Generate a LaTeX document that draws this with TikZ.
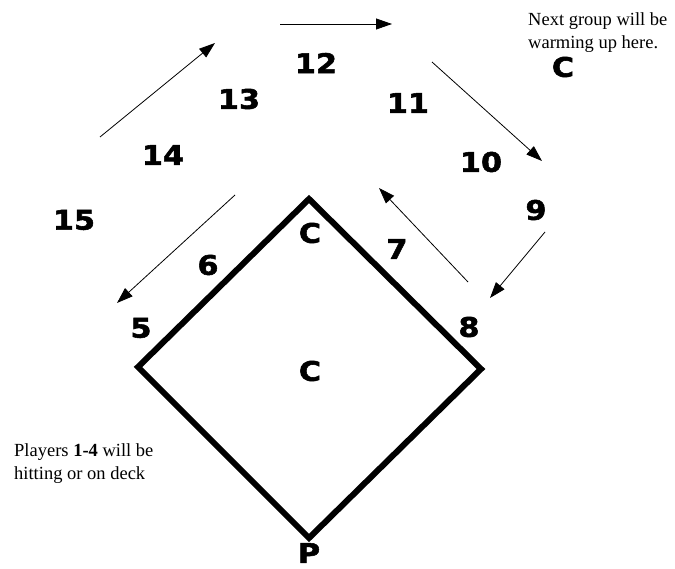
\documentclass[tikz,border=0pt]{standalone}
\usepackage{fontspec}
\setmainfont{Liberation Serif}
\newfontfamily\numfont{DejaVu Sans}[FakeStretch=1.12, FakeBold=2]
\usetikzlibrary{arrows.meta}
\tikzset{
  num/.style={font=\numfont\bfseries\fontsize{27}{30}\selectfont, inner sep=0pt},
  note/.style={font=\fontsize{18.5}{23}\selectfont, align=left, inner sep=0pt, anchor=north west},
  runarrow/.style={line width=0.8pt, -{Triangle[length=16pt,width=11pt]}},
  basepath/.style={line width=6pt, line join=miter}
}
\begin{document}
\begin{tikzpicture}[x=1pt,y=-1pt]
\useasboundingbox (0,0) rectangle (675,569);
% diamond
\coordinate (top) at (309,199);
\coordinate (right) at (481,369);
\coordinate (bottom) at (309,538);
\coordinate (left) at (138,367);
\draw[basepath] (top) -- (right) -- (bottom) -- (left) -- cycle;
% numbers
\node[num] (n5) at (141,328) {5};
\node[num] (n6) at (208,265) {6};
\node[num] (n7) at (397,249) {7};
\node[num] (n8) at (469,327) {8};
\node[num] (n9) at (536,210) {9};
\node[num] (n10) at (481,162) {10};
\node[num] (n11) at (408,103) {11};
\node[num] (n12) at (316,63) {12};
\node[num] (n13) at (239,99) {13};
\node[num] (n14) at (163,155) {14};
\node[num] (n15) at (74,220) {15};
\node[num] (ctop) at (310,233) {C};
\node[num] (cmid) at (310,371) {C};
\node[num] (pbot) at (309,553) {P};
\node[num] (cwarm) at (563,67) {C};
% notes
\node[note] (warm) at (528,12) {Next group will be\\warming up here.};
\node[note] (players) at (14,443) {Players \textbf{1-4} will be\\hitting or on deck};
% arrows
\coordinate (a1s) at (280,24); \coordinate (a1e) at (392,24);
\coordinate (a2s) at (100,137); \coordinate (a2e) at (215,43);
\coordinate (a3s) at (432,62); \coordinate (a3e) at (542,161);
\coordinate (a4s) at (545,232); \coordinate (a4e) at (490,298);
\coordinate (a5s) at (468,282); \coordinate (a5e) at (379,188);
\coordinate (a6s) at (235,195); \coordinate (a6e) at (117,303);
\draw[runarrow] (a1s) -- (a1e);
\draw[runarrow] (a2s) -- (a2e);
\draw[runarrow] (a3s) -- (a3e);
\draw[runarrow] (a4s) -- (a4e);
\draw[runarrow] (a5s) -- (a5e);
\draw[runarrow] (a6s) -- (a6e);
\end{tikzpicture}
\end{document}
